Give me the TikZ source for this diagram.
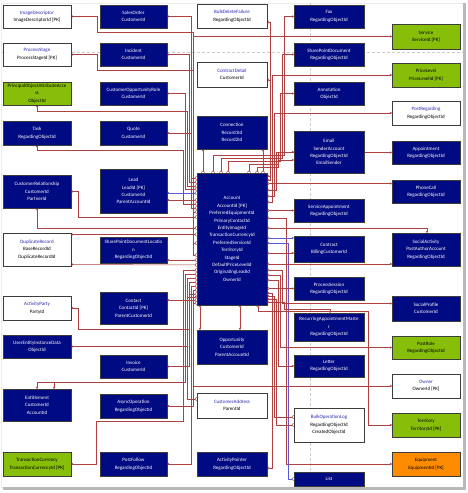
\documentclass[tikz,border=0pt]{standalone}
\usepackage{fontspec}
\setmainfont{Carlito}
\usetikzlibrary{arrows.meta,backgrounds}
\definecolor{entnavy}{RGB}{0,10,130}
\definecolor{entgreen}{RGB}{135,190,10}
\definecolor{entorange}{RGB}{255,140,0}
\definecolor{bord}{RGB}{60,60,60}
\definecolor{relred}{RGB}{175,65,65}
\definecolor{relblue}{RGB}{90,90,210}
\definecolor{tblue}{RGB}{40,40,175}
\newcommand\erfont{\fontsize{5}{7.4}\selectfont}
\newcommand\ttl[1]{\textcolor{tblue}{#1}}
\tikzset{
 ent/.style={draw=bord, line width=0.5pt, inner sep=0pt, align=center, font=\erfont},
 nv/.style={ent, fill=entnavy, text=white},
 wh/.style={ent, fill=white, text=black},
 gr/.style={ent, fill=entgreen, text=black},
 og/.style={ent, fill=entorange, text=black},
 ca/.style={minimum width=68pt},
 cb/.style={minimum width=67pt},
 cc/.style={minimum width=70pt},
 rel/.style={draw=relred, line width=0.5pt, {Circle[open,length=2pt,width=2pt]}-{Straight Barb[reversed,length=1.6pt,width=3.6pt]}},
 relr/.style={draw=relred, line width=0.5pt, {Straight Barb[reversed,length=1.6pt,width=3.6pt]}-{Circle[open,length=2pt,width=2pt]}},
 relb/.style={draw=relblue, line width=0.5pt, {Circle[open,length=2pt,width=2pt]}-{Straight Barb[reversed,length=1.6pt,width=3.6pt]}},
 pageline/.style={draw=gray!40, line width=0.4pt, dash pattern=on 3pt off 2pt},
}
\begin{document}
\begin{tikzpicture}[x=1pt,y=-1pt]
\useasboundingbox (0,0) rectangle (467,493);
% column 1
\node[wh,ca,minimum height=23pt] (ImageDescriptor) at (37,16.5) {\ttl{ImageDescriptor}\\ImageDescriptorId [PK]};
\node[wh,ca,minimum height=23pt] (ProcessStage) at (37,54.5) {\ttl{ProcessStage}\\ProcessStageId [PK]};
\node[gr,ca,minimum height=23pt] (POAA) at (37,93.5) {PrincipalObjectAttributeAcce\\ss\\ObjectId};
\node[nv,ca,minimum height=24pt] (Task) at (37,133) {Task\\RegardingObjectId};
\node[nv,ca,minimum height=33pt] (CustRel) at (37,191.5) {CustomerRelationship\\CustomerId\\PartnerId};
\node[wh,ca,minimum height=33pt] (DupRec) at (37,249.5) {\ttl{DuplicateRecord}\\BaseRecordId\\DuplicateRecordId};
\node[wh,ca,minimum height=24pt] (ActParty) at (37,308) {\ttl{ActivityParty}\\PartyId};
\node[nv,ca,minimum height=23pt] (UEID) at (37,346.5) {UserEntityInstanceData\\ObjectId};
\node[nv,ca,minimum height=32pt] (Entitle) at (37,405) {Entitlement\\CustomerId\\AccountId};
\node[gr,ca,minimum height=24pt] (TransCur) at (37,464) {TransactionCurrency\\TransactionCurrencyId [PK]};
% column 2
\node[nv,cb,minimum height=23pt] (SalesOrder) at (133.5,16.5) {SalesOrder\\CustomerId};
\node[nv,cb,minimum height=23pt] (Incident) at (133.5,54.5) {Incident\\CustomerId};
\node[nv,cb,minimum height=23pt] (CustOppRole) at (133.5,93.5) {CustomerOpportunityRole\\CustomerId};
\node[nv,cb,minimum height=24pt] (Quote) at (133.5,133) {Quote\\CustomerId};
\node[nv,cb,minimum height=44pt] (Lead) at (133.5,191) {Lead\\LeadId [PK]\\CustomerId\\ParentAccountId};
\node[nv,cb,minimum height=26pt] (SPDL) at (133.5,250) {SharePointDocumentLocatio\\n\\RegardingObjectId};
\node[nv,cb,minimum height=32pt] (Contact) at (133.5,308) {Contact\\ContactId [PK]\\ParentCustomerId};
\node[nv,cb,minimum height=23pt] (Invoice) at (133.5,366.5) {Invoice\\CustomerId};
\node[nv,cb,minimum height=24pt] (AsyncOp) at (133.5,406) {AsyncOperation\\RegardingObjectId};
\node[nv,cb,minimum height=24pt] (PostFollow) at (133.5,464) {PostFollow\\RegardingObjectId};
% column 3
\node[wh,cc,minimum height=24pt] (BDF) at (232,16) {\ttl{BulkDeleteFailure}\\RegardingObjectId};
\node[wh,cc,minimum height=25pt] (CD) at (232,74.5) {\ttl{ContractDetail}\\CustomerId};
\node[nv,cc,minimum height=33pt] (Connection) at (232,132.5) {Connection\\Record1Id\\Record2Id};
\node[nv,cc,minimum height=132pt] (Account) at (232,239) {Account\\AccountId [PK]\\PreferredEquipmentId\\PrimaryContactId\\EntityImageId\\TransactionCurrencyId\\PreferredServiceId\\TerritoryId\\StageId\\DefaultPriceLevelId\\OriginatingLeadId\\OwnerId};
\node[nv,cc,minimum height=34pt] (Opportunity) at (232,347) {Opportunity\\CustomerId\\ParentAccountId};
\node[wh,cc,minimum height=25pt] (CustAddr) at (232,405.5) {\ttl{CustomerAddress}\\ParentId};
\node[nv,cc,minimum height=24pt] (ActPtr) at (232,464) {ActivityPointer\\RegardingObjectId};
% column 4
\node[nv,cc,minimum height=23pt] (Fax) at (329,16.5) {Fax\\RegardingObjectId};
\node[nv,cc,minimum height=23pt] (SPD) at (329,54.5) {SharePointDocument\\RegardingObjectId};
\node[nv,cc,minimum height=23pt] (Annotation) at (329,93.5) {Annotation\\ObjectId};
\node[nv,cc,minimum height=42pt] (Email) at (329,152) {Email\\SenderAccount\\RegardingObjectId\\EmailSender};
\node[nv,cc,minimum height=23pt] (ServAppt) at (329,210.5) {ServiceAppointment\\RegardingObjectId};
\node[nv,cc,minimum height=26pt] (Contract) at (329,249) {Contract\\BillingCustomerId};
\node[nv,cc,minimum height=23pt] (ProcSess) at (329,288.5) {ProcessSession\\RegardingObjectId};
\node[nv,cc,minimum height=28pt] (RAM) at (329,327) {RecurringAppointmentMaste\\r\\RegardingObjectId};
\node[nv,cc,minimum height=22pt] (Letter) at (329,366) {Letter\\RegardingObjectId};
\node[wh,cc,minimum height=34pt] (BOL) at (329,425) {\ttl{BulkOperationLog}\\RegardingObjectId\\CreatedObjectId};
\node[nv,cc,minimum height=14pt] (List) at (329,479) {List};
% column 5
\node[gr,ca,minimum height=25pt] (Service) at (426,36.5) {Service\\ServiceId [PK]};
\node[gr,ca,minimum height=24pt] (PriceLevel) at (426,75) {PriceLevel\\PriceLevelId [PK]};
\node[wh,ca,minimum height=24pt] (PostRegarding) at (426,113) {\ttl{PostRegarding}\\RegardingObjectId};
\node[nv,ca,minimum height=23pt] (Appointment) at (426,152.5) {Appointment\\RegardingObjectId};
\node[nv,ca,minimum height=23pt] (PhoneCall) at (426,191.5) {PhoneCall\\RegardingObjectId};
\node[nv,ca,minimum height=33pt] (SocialActivity) at (426,249.5) {SocialActivity\\PostAuthorAccount\\RegardingObjectId};
\node[nv,ca,minimum height=25pt] (SocialProfile) at (426,308.5) {SocialProfile\\CustomerId};
\node[gr,ca,minimum height=23pt] (PostRole) at (426,347.5) {PostRole\\RegardingObjectId};
\node[wh,ca,minimum height=24pt] (Owner) at (426,386) {\ttl{Owner}\\OwnerId [PK]};
\node[gr,ca,minimum height=24pt] (Territory) at (426,425) {Territory\\TerritoryId [PK]};
\node[og,ca,minimum height=24pt] (Equipment) at (426,464) {Equipment\\EquipmentId [PK]};

\begin{scope}[on background layer]
\fill[white] (0,0) rectangle (467,493);
\draw[gray!15, line width=0.4pt] (1.5,3) rectangle (463,487);
\fill[gray!55] (463,3) rectangle (465.5,490);
\fill[gray!55] (3,487) rectangle (465.5,490);
\draw[pageline] (310,3) -- (310,487);
\draw[pageline] (2,52) -- (463,52);
% left side
\draw[rel] (SalesOrder.east) -- (191,16.5) |- ([yshift=61pt]Account.west);
\draw[rel] (Incident.east) -- (189,54.5) |- ([yshift=57pt]Account.west);
\draw[rel] (ImageDescriptor.east) -- (97,16.5) -- (97,32) -- (193,32) |- ([yshift=27pt]Account.west);
\draw[rel] (ProcessStage.east) -- (97,54.5) -- (97,70) -- (193,70) |- ([yshift=-16pt]Account.west);
\draw[rel] (POAA.south) -- (37,111) -- (187,111) |- ([yshift=53pt]Account.west);
\draw[rel] (CustOppRole.east) -- (185,93.5) |- ([yshift=50pt]Account.west);
\draw[rel] (Task.south) -- (37,150) -- (183,150) |- ([yshift=35pt]Account.west);
\draw[rel] (Quote.east) -- (191,133) |- ([yshift=31pt]Account.west);
\draw[relb] ([yshift=-2pt]Lead.east) -- ([yshift=46pt]Account.west);
\draw[rel] ([yshift=-9pt]Lead.east) -- ([yshift=39pt]Account.west);
\draw[rel] (CustRel.east) -- (78,191.5) -- (78,217) -- ([yshift=22pt]Account.west);
\draw[rel] (CustRel.south) -- (37,228) -- ([yshift=11pt]Account.west);
\draw[rel] ([yshift=15pt]DupRec.east) -- ([yshift=4.5pt]Account.west);
\draw[rel] (Service.west) -- (193,36.5) |- ([yshift=-4pt]Account.west);
\draw[rel] ([yshift=-10pt]SPDL.east) -- ([yshift=-21pt]Account.west);
\draw[rel] ([yshift=-15pt]DupRec.east) -- ([yshift=-26pt]Account.west);
\draw[rel] (TransCur.east) -- (96,464) -- (96,421) -- (183,421) |- ([yshift=-31pt]Account.west);
\draw[rel] (Entitle.north) -- (37,382) -- (185,382) |- ([yshift=-35pt]Account.west);
\draw[draw=relred, line width=0.5pt, {Circle[open,length=2pt,width=2pt]}-] ([xshift=17pt]Entitle.north) -- (54,382);
\draw[rel] (UEID.east) -- (187,346.5) |- ([yshift=-39pt]Account.west);
\draw[rel] (ActParty.east) -- (78,308) -- (78,329) -- (189,329) |- ([yshift=-43pt]Account.west);
\draw[rel] (PostFollow.east) -- (191,464) |- ([yshift=-47pt]Account.west);
\draw[rel] (AsyncOp.east) -- (193,406) |- ([yshift=-51pt]Account.west);
\draw[rel] (Invoice.east) -- (189,366.5) |- ([yshift=-55pt]Account.west);
\draw[relr] ([yshift=6.5pt]CustAddr.west) -- (187,399) |- ([yshift=-58pt]Account.west);
\draw[rel] ([yshift=8pt]Contact.east) -- ([yshift=-61pt]Account.west);
\draw[rel] (Owner.west) -- (193,386) |- ([yshift=-64pt]Account.west);
% top
\draw[rel] ([xshift=-29pt]Connection.south) -- ([xshift=-29pt]Account.north);
\draw[rel] ([xshift=31pt]Connection.south) -- ([xshift=31pt]Account.north);
\draw[rel] (Fax.west) -- (284,16.5) -- (284,155) -| ([xshift=-19pt]Account.north);
\draw[rel] (SPD.west) -- (282,54.5) -- (282,158) -| ([xshift=-11pt]Account.north);
\draw[rel] (Annotation.west) -- (280,93.5) -- (280,161) -| ([xshift=-4pt]Account.north);
\draw[rel] (Email.west) -- (278,152) -- (278,164) -| ([xshift=17pt]Account.north);
\draw[rel] ([yshift=-8pt]Email.west) -- (278,160) -- (278,167) -| ([xshift=25pt]Account.north);
% right side
\draw[relr] ([yshift=-6pt]BDF.east) -- (270,22) |- ([yshift=63pt]Account.east);
\draw[relr] ([yshift=-5.5pt]CD.east) -- (270,80) |- ([yshift=59pt]Account.east);
\draw[rel] ([yshift=8pt]PhoneCall.west) -- ([yshift=55.5pt]Account.east);
\draw[rel] (Appointment.west) -- (276,152.5) |- ([yshift=49pt]Account.east);
\draw[rel] (PostRegarding.west) -- (274,113) |- ([yshift=43pt]Account.east);
\draw[rel] (PriceLevel.west) -- (272,75) |- ([yshift=37pt]Account.east);
\draw[rel] (ServAppt.west) -- ([yshift=28.5pt]Account.east);
\draw[rel] (Equipment.west) -- (286,464) |- ([yshift=21pt]Account.east);
\draw[rel] ([xshift=1pt]SocialActivity.north) -- (427,228) -- ([yshift=11pt]Account.east);
\draw[relb] ([yshift=11pt]Contract.west) -- ([yshift=1pt]Account.east);
\draw[relb] ([yshift=-4pt]Account.east) -- (288,243) -- (288,479) -- (List.west);
\draw[rel] ([yshift=-4pt]Contract.west) -- ([yshift=-14pt]Account.east);
\draw[rel] ([yshift=-14.5pt]SocialActivity.west) -- ([yshift=-25pt]Account.east);
\draw[rel] ([yshift=5pt]SocialProfile.west) -- (282,303.5) |- ([yshift=-31pt]Account.east);
\draw[rel] (PostRole.west) -- (280,347.5) |- ([yshift=-36pt]Account.east);
\draw[rel] (Letter.west) -- (278,366) |- ([yshift=-41pt]Account.east);
\draw[rel] (ProcSess.west) -- ([yshift=-49.5pt]Account.east);
\draw[relr] ([yshift=-4pt]ActPtr.east) -- (272,468) |- ([yshift=-54pt]Account.east);
\draw[relr] ([yshift=8pt]BOL.west) -- (274,417) |- ([yshift=-57pt]Account.east);
\draw[relr] (BOL.west) -- (276,425) |- ([yshift=-60pt]Account.east);
\draw[rel] ([xshift=1pt]RAM.north) -- (330,309) -- (284,309) |- ([yshift=-63pt]Account.east);
\draw[rel] (Territory.west) -- (368,425) -- (368,311) -| ([xshift=26pt]Account.south);
% bottom
\draw[rel] ([xshift=-32pt]Opportunity.north) -- ([xshift=-32pt]Account.south);
\draw[rel] ([xshift=8pt]Opportunity.north) -- ([xshift=8pt]Account.south);
\end{scope}
\end{tikzpicture}
\end{document}
